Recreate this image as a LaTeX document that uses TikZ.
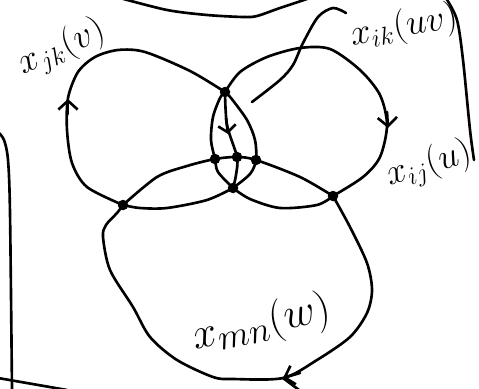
\documentclass[tikz,border=0pt]{standalone}
\usetikzlibrary{arrows.meta}
\begin{document}
\begin{tikzpicture}[x=0.02cm,y=-0.02cm,
  wire/.style={line width=1.5pt,line cap=round,line join=round},
  dot/.style={circle,fill,inner sep=0pt,minimum size=0.21cm},
  tip/.style={wire,-{Straight Barb[length=5pt,width=11pt]}},
  lbl/.style={font=\huge}]
\useasboundingbox (0,0) rectangle (479,388);
% crossing points
\node[dot] (top) at (225,92) {};
\node[dot] (lft) at (123,205) {};
\node[dot] (low) at (233,188) {};
\node[dot] (rgt) at (333,196) {};
\node[dot] (inl) at (215,159) {};
\node[dot] (inm) at (237,157) {};
\node[dot] (inr) at (256,160) {};
% left loop
\draw[wire] plot[smooth] coordinates {(top.center) (190,71) (145,52) (118,50) (95,57) (78,72) (68,98) (67,130) (72,163) (87,187) (lft.center)};
\draw[wire] plot[smooth] coordinates {(lft.center) (140,208) (167,208) (207,200) (low.center)};
% right loop
\draw[wire] plot[smooth] coordinates {(top.center) (240,72) (267,57) (300,48) (330,49) (360,70) (380,95) (387,125) (380,157) (363,177) (rgt.center)};
\draw[wire] plot[smooth] coordinates {(rgt.center) (317,205) (280,208) (250,199) (low.center)};
% big loop
\draw[wire] plot[smooth] coordinates {(lft.center) (157,177) (187,166) (inl.center) (inm.center) (inr.center) (300,177) (rgt.center)};
\draw[wire] plot[smooth] coordinates {(rgt.center) (350,227) (367,263) (372,290) (367,313) (350,337) (317,360) (283,378) (233,379) (213,377) (177,360) (150,337) (133,307) (110,270) (103,237) (106,225) (117,213) (lft.center)};
% inner lens and stem
\draw[wire] plot[smooth] coordinates {(top.center) (220,98) (213,117) (211,140) (inl.center) (218,172) (low.center)};
\draw[wire] plot[smooth] coordinates {(top.center) (231,98) (247,120) (255,140) (inr.center) (250,174) (low.center)};
\draw[wire] plot[smooth] coordinates {(top.center) (227,125) (inm.center) (236,175) (low.center)};
% leader curve
\coordinate (lead) at (252,102);
\draw[wire] plot[smooth] coordinates {(lead) (280,80) (293,65) (303,43) (318,17) (333,8) (346,13)};
% frame strokes
\draw[wire] plot[smooth] coordinates {(120,-2) (167,10) (207,15) (243,17) (257,16) (280,8) (310,-2)};
\draw[wire] plot[smooth] coordinates {(446,-2) (457,20) (463,60) (470,130) (474,160)};
\draw[wire] plot[smooth] coordinates {(-2,132) (4,140) (8,160) (10,213) (12,390)};
\draw[wire] (-2,378) -- (67,390);
% arrow marks
\draw[tip] (68,114) -- (68,99);
\draw[tip] (387,112) -- (388,128);
\draw[tip,-{Straight Barb[length=4pt,width=10pt]}] (226,118) -- (228,134);
\draw[tip] (300,373) -- (283,378);
\draw[wire] (283,378) -- (299,390);
% labels
\node[lbl,rotate=24] (ljk) at (62,48) {$x_{jk}(v)$};
\node[lbl,rotate=10] (lik) at (404,27) {$x_{ik}(uv)$};
\node[lbl,rotate=17] (lij) at (429,165) {$x_{ij}(u)$};
\node[lbl,rotate=12,font=\fontsize{30}{33}\selectfont] (lmn) at (262,324) {$x_{mn}(w)$};
\end{tikzpicture}
\end{document}
